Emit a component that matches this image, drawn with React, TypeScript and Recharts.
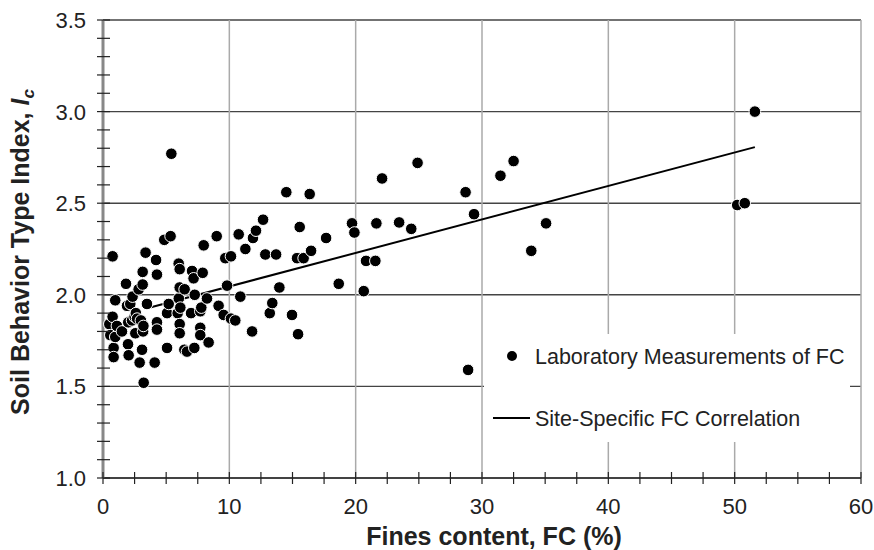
import React from 'react';
import { ScatterChart, Scatter, XAxis, YAxis, ReferenceLine } from 'recharts';

// lab measurements: fines content (%) vs Ic
const fcLab = [
  0.5, 0.58, 0.76, 0.76, 0.84, 0.84, 0.97, 0.97, 1.1, 1.5,
  1.82, 1.9, 1.98, 2.0, 2.03, 2.16, 2.3, 2.34, 2.5, 2.56,
  2.6, 2.7, 2.82, 2.9, 3.0, 3.09, 3.14, 3.14, 3.17, 3.2,
  3.22, 3.37, 3.48, 4.09, 4.2, 4.27, 4.27, 4.27, 4.85, 5.07,
  5.07, 5.2, 5.35, 5.41, 5.91, 5.99, 6.0, 6.07, 6.07, 6.07,
  6.07, 6.12, 6.44, 6.46, 6.65, 6.97, 7.05, 7.17, 7.23, 7.26,
  7.7, 7.7, 7.7, 7.78, 7.89, 7.97, 8.23, 8.36, 9.0, 9.15,
  9.55, 9.68, 9.82, 10.13, 10.13, 10.47, 10.74, 10.87, 11.27, 11.8,
  11.87, 12.11, 12.67, 12.85, 13.2, 13.4, 13.7, 13.96, 14.51, 14.96,
  15.36, 15.44, 15.57, 15.88, 16.36, 16.47, 17.66, 18.66, 19.71, 19.9,
  20.64, 20.82, 21.56, 21.64, 22.09, 23.44, 24.4, 24.9, 28.7, 28.9,
  29.37, 31.46, 32.5, 33.9, 35.07, 50.2, 50.8, 51.6,
];

const icLab = [
  1.84, 1.78, 2.21, 1.88, 1.71, 1.66, 1.97, 1.77, 1.83, 1.80,
  2.06, 1.94, 1.73, 1.85, 1.67, 1.95, 1.86, 1.99, 1.88, 1.79,
  1.90, 1.87, 2.03, 1.63, 1.86, 1.70, 2.125, 2.056, 1.80, 1.83,
  1.52, 2.23, 1.95, 1.63, 2.19, 2.11, 1.85, 1.81, 2.30, 1.90,
  1.71, 1.95, 2.32, 2.77, 1.90, 2.17, 1.98, 2.14, 2.04, 1.84,
  1.79, 1.93, 1.70, 2.03, 1.69, 1.90, 2.13, 2.09, 1.71, 2.00,
  1.91, 1.82, 1.78, 1.93, 2.12, 2.27, 1.98, 1.74, 2.32, 1.94,
  1.89, 2.20, 2.05, 2.21, 1.87, 1.86, 2.33, 1.99, 2.25, 1.80,
  2.31, 2.35, 2.41, 2.22, 1.90, 1.955, 2.22, 2.04, 2.56, 1.89,
  2.20, 1.785, 2.37, 2.20, 2.55, 2.24, 2.31, 2.06, 2.39, 2.34,
  2.02, 2.185, 2.185, 2.39, 2.635, 2.395, 2.36, 2.72, 2.56, 1.59,
  2.44, 2.65, 2.73, 2.24, 2.39, 2.49, 2.50, 3.0,
];

// site-specific correlation end points
const fcCorr = [3.5, 51.6];
const icCorr = [1.927, 2.806];

const xTicks = [0, 2.5, 5, 7.5, 10, 12.5, 15, 17.5, 20, 22.5, 25, 27.5, 30, 32.5, 35, 37.5, 40, 42.5, 45, 47.5, 50, 52.5, 55, 57.5, 60];
const xMajor = [0, 10, 20, 30, 40, 50, 60];
const yTicks = [1.0, 1.1, 1.2, 1.3, 1.4, 1.5, 1.6, 1.7, 1.8, 1.9, 2.0, 2.1, 2.2, 2.3, 2.4, 2.5, 2.6, 2.7, 2.8, 2.9, 3.0, 3.1, 3.2, 3.3, 3.4, 3.5];
const yMajor = [1.0, 1.5, 2.0, 2.5, 3.0, 3.5];

const labData = fcLab.map((fc, i) => ({ fc, ic: icLab[i] }));
const corrData = fcCorr.map((fc, i) => ({ fc, ic: icCorr[i] }));

const FONT = "Arial, 'Liberation Sans', sans-serif";

const isMajor = (list: number[], v: number) => list.some((m) => Math.abs(m - v) < 1e-6);

const YTick = (props: any) => {
  const { x, y, payload } = props;
  const v = payload.value;
  return (
    <g>
      <line x1={x - 6} x2={x + 7} y1={y} y2={y} stroke="#222" strokeWidth={1.2} />
      {isMajor(yMajor, v) && (
        <text x={x - 17} y={y} dy="0.36em" textAnchor="end" fontSize={22} fill="#222" fontFamily={FONT}>
          {v.toFixed(1)}
        </text>
      )}
    </g>
  );
};

const XTick = (props: any) => {
  const { x, y, payload } = props;
  const v = payload.value;
  return (
    <g>
      <line x1={x} x2={x} y1={y - 6} y2={y + 6} stroke="#222" strokeWidth={1.2} />
      {isMajor(xMajor, v) && (
        <text x={x} y={y + 28} dy="0.36em" textAnchor="middle" fontSize={22} fill="#222" fontFamily={FONT}>
          {v}
        </text>
      )}
    </g>
  );
};

const Dot = (props: any) => (
  <circle cx={props.cx} cy={props.cy} r={5.8} fill="#000" stroke="#fff" strokeWidth={1} />
);

const NoDot = () => <g />;

const XLabel = () => (
  <text x={494} y={536} dy="0.36em" textAnchor="middle" fontSize={25} fontWeight="bold" fill="#222" fontFamily={FONT}>
    Fines content, FC (%)
  </text>
);

const YLabel = () => (
  <text transform="translate(29,252) rotate(-90)" textAnchor="middle" fontSize={25} fontWeight="bold" fill="#222" fontFamily={FONT}>
    Soil Behavior Type Index, <tspan fontStyle="italic">I</tspan>
    <tspan fontStyle="italic" fontSize={17} dy={5}>c</tspan>
  </text>
);

const LegendBox = () => (
  <div style={{ position: 'absolute', left: 484, top: 334, width: 366, height: 108, background: '#fff' }}>
    <svg width={366} height={108} style={{ position: 'absolute', left: 0, top: 0 }}>
      <circle cx={28} cy={22} r={5} fill="#000" />
      <text x={51} y={22} dy="0.36em" fontSize={21.5} fill="#222" fontFamily={FONT}>
        Laboratory Measurements of FC
      </text>
      <line x1={9} x2={46} y1={84} y2={84} stroke="#000" strokeWidth={2} />
      <text x={51} y={84} dy="0.36em" fontSize={21.5} fill="#222" fontFamily={FONT}>
        Site-Specific FC Correlation
      </text>
    </svg>
  </div>
);

export default function App() {
  return (
    <div style={{ position: 'absolute', left: 0, top: 0, width: 874, height: 550, background: '#fff' }}>
      <ScatterChart width={874} height={550} margin={{ top: 20, right: 13, bottom: 0, left: 0 }}>
        {yMajor.map((v) => (
          <ReferenceLine key={'h' + v} y={v} stroke="#444" strokeWidth={1.4} />
        ))}
        {xMajor.slice(1).map((v) => (
          <ReferenceLine key={'v' + v} x={v} stroke="#aaa" strokeWidth={1.5} />
        ))}
        <XAxis
          type="number"
          dataKey="fc"
          domain={[0, 60]}
          ticks={xTicks}
          interval={0}
          height={72}
          tickSize={0}
          tickMargin={0}
          tick={<XTick />}
          axisLine={{ stroke: '#333', strokeWidth: 1.5 }}
          allowDataOverflow
          label={{ content: () => <XLabel /> }}
        />
        <YAxis
          type="number"
          dataKey="ic"
          domain={[1, 3.5]}
          ticks={yTicks}
          interval={0}
          width={103}
          tickSize={0}
          tickMargin={0}
          tick={<YTick />}
          axisLine={{ stroke: '#888', strokeWidth: 3 }}
          allowDataOverflow
          label={{ content: () => <YLabel /> }}
        />
        <Scatter
          data={corrData}
          line={{ stroke: '#000', strokeWidth: 2 }}
          lineType="joint"
          shape={<NoDot />}
          isAnimationActive={false}
        />
        <Scatter data={labData} shape={<Dot />} isAnimationActive={false} />
      </ScatterChart>
      <LegendBox />
    </div>
  );
}
